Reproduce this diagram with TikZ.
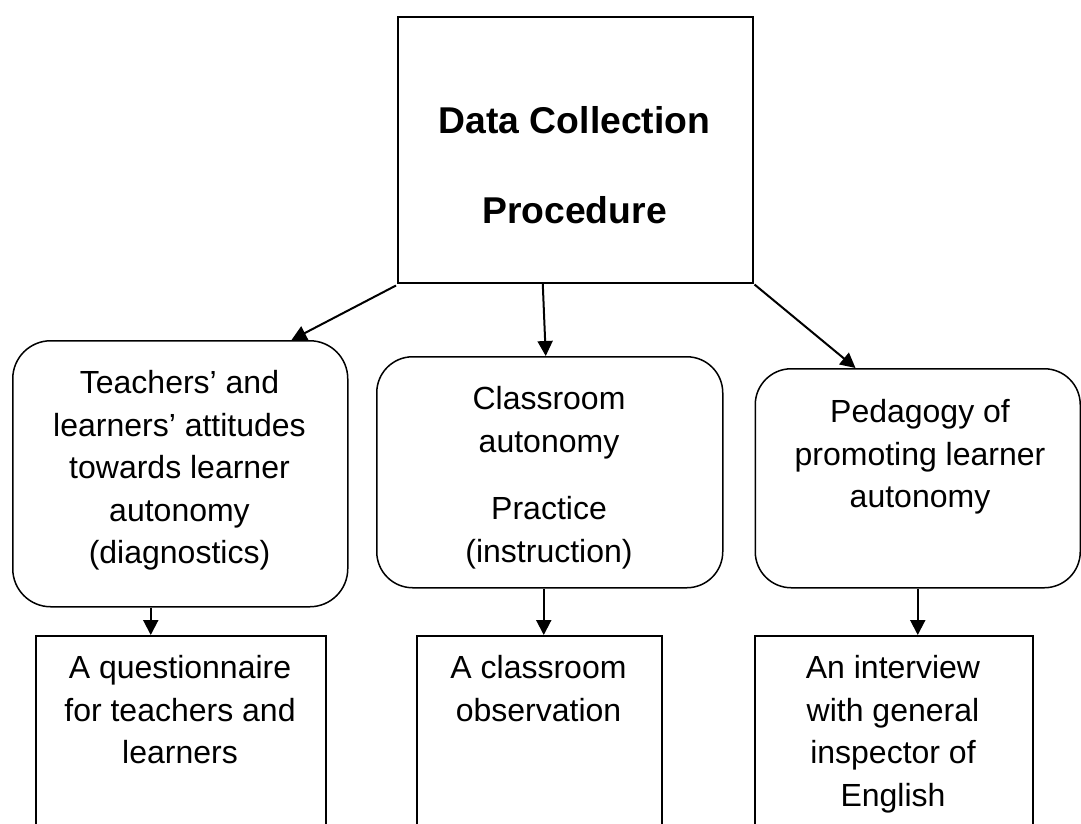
\documentclass[tikz,border=0pt]{standalone}
\usepackage{fontspec}
\setmainfont{Liberation Sans}
\usetikzlibrary{arrows.meta}
\tikzset{
  box/.style={draw, line width=1.5pt, rectangle, inner sep=0pt, anchor=north west},
  rbox/.style={box, rounded corners=36pt},
  txt/.style={anchor=north, inner sep=0pt, align=center, font=\fontsize{32}{42.5}\selectfont},
  ttl/.style={anchor=north, inner sep=0pt, align=center, font=\fontsize{37.3}{90}\selectfont\bfseries},
  arr/.style={line width=2pt, -{Triangle[length=15pt,width=15pt]}}
}
\begin{document}
\begin{tikzpicture}[x=1pt,y=-1pt]
\useasboundingbox (0,0) rectangle (1081,823);
\clip (0,0) rectangle (1081,823);
% boxes
\node[box, minimum width=355pt, minimum height=266pt] (top) at (397,16) {};
\node[rbox, rounded corners=38pt, minimum width=335pt, minimum height=266pt] (lbox) at (12,340) {};
\node[rbox, minimum width=346pt, minimum height=231pt] (mbox) at (376,356) {};
\node[rbox, minimum width=325pt, minimum height=219pt] (rbox) at (754.5,368) {};
\node[box, minimum width=290pt, minimum height=265pt] (bl) at (35,635) {};
\node[box, minimum width=245pt, minimum height=265pt] (bm) at (416,635) {};
\node[box, minimum width=278pt, minimum height=265pt] (br) at (754,635) {};
% texts
\node[ttl] (ttop) at (574.5,70) {\strut Data Collection\\Procedure};
\node[txt] (tl) at (179.5,364) {\strut Teachers’ and\\learners’ attitudes\\towards learner\\autonomy\\(diagnostics)};
\node[txt] (tm) at (549,380) {\strut Classroom\\autonomy\\[25pt]Practice\\(instruction)};
\node[txt] (tr) at (920,393) {\strut Pedagogy of\\promoting learner\\autonomy};
\node[txt] (tbl) at (180,649) {\strut A questionnaire\\for teachers and\\learners};
\node[txt] (tbm) at (538.5,649) {\strut A classroom\\observation};
\node[txt] (tbr) at (893,649) {\strut An interview\\with general\\inspector of\\English};
% connectors
\draw[arr] ([xshift=-1pt,yshift=-2pt]top.south west) -- ([xshift=-57pt]lbox.north east);
\draw[arr] ([xshift=-32.5pt]top.south) -- ([xshift=-4pt]mbox.north);
\draw[arr] ([xshift=1pt,yshift=-1pt]top.south east) -- ([xshift=101pt]rbox.north west);
\draw[arr] ([xshift=-29.5pt]lbox.south) -- ([xshift=-29.5pt]lbox.south |- bl.north);
\draw[arr] ([xshift=-6pt]mbox.south) -- ([xshift=-6pt]mbox.south |- bm.north);
\draw[arr] (rbox.south) -- (rbox.south |- br.north);
\end{tikzpicture}
\end{document}
